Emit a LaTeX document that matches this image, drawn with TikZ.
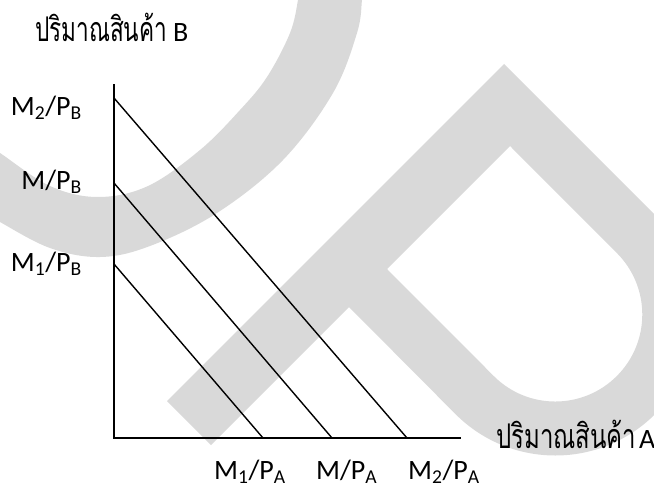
\documentclass[tikz,border=0pt]{standalone}
\usepackage{fontspec}
\usepackage{graphicx}
\setmainfont{Carlito}
\newfontfamily\thaifont[Script=Thai]{Loma}
\definecolor{wmgray}{RGB}{217,217,217}
\newcommand{\thaiw}[2]{\resizebox{#1}{\height}{\thaifont\fontsize{34}{38}\selectfont #2}}
\tikzset{
  lab/.style={inner sep=0pt, font=\fontsize{28}{32}\selectfont},
  axisline/.style={line width=2pt, line cap=rect},
  budget/.style={line width=1.4pt},
  wm/.style={fill=wmgray, draw=none}
}
\begin{document}
\begin{tikzpicture}[x=1pt, y=-1pt]
\useasboundingbox (0,0) rectangle (654,487);
% watermark
\begin{scope}
  \clip (0,0) rectangle (654,487);
  \fill[wm] plot[smooth, tension=0.6] coordinates {(-12,146) (0,153) (50,186) (98,197) (148,186) (200,150) (240,110) (267,77) (290,33) (298,0) (299,-12)}
    -- plot[smooth, tension=0.6] coordinates {(363,-12) (362,0) (357,33) (333,93) (283,160) (217,213) (150,246) (100,257) (50,248) (0,222) (-12,214)} -- cycle;
  \fill[wm, even odd rule]
    (167,401) -- (504,64) -- (655,214.8) arc[start angle=-45, end angle=135, radius=141] -- (349,307) -- (211,445) -- cycle
    (510,146) -- (616.8,253) arc[start angle=-45, end angle=135, radius=87] -- (387,269) -- cycle;
\end{scope}
% axes
\coordinate (o) at (114,438);
\coordinate (ytop) at (114,85);
\coordinate (xend) at (460,438);
\draw[axisline] (ytop) -- (o) -- (xend);
% budget lines
\coordinate (b2) at (114,98);
\coordinate (b0) at (114,183);
\coordinate (b1) at (114,264);
\coordinate (a2) at (407,438);
\coordinate (a0) at (332,438);
\coordinate (a1) at (263,438);
\draw[budget] (b2) -- (a2);
\draw[budget] (b0) -- (a0);
\draw[budget] (b1) -- (a1);
% labels
\node[lab, anchor=base west] (ylab) at (35,42) {\thaiw{132pt}{ปริมาณสินค้า}\kern6pt B};
\node[lab, anchor=base west] (xlab) at (496,448) {\thaiw{140pt}{ปริมาณสินค้า}\kern3pt A};
\node[lab, anchor=base east] (lm2b) at (82,115) {M\textsubscript{2}/P\textsubscript{B}};
\node[lab, anchor=base east] (lmb) at (82,189) {M/P\textsubscript{B}};
\node[lab, anchor=base east] (lm1b) at (82,271) {M\textsubscript{1}/P\textsubscript{B}};
\node[lab, anchor=base west] (lm1a) at (214,479) {M\textsubscript{1}/P\textsubscript{A}};
\node[lab, anchor=base west] (lma) at (316,479) {M/P\textsubscript{A}};
\node[lab, anchor=base west] (lm2a) at (408,479) {M\textsubscript{2}/P\textsubscript{A}};
\end{tikzpicture}
\end{document}
